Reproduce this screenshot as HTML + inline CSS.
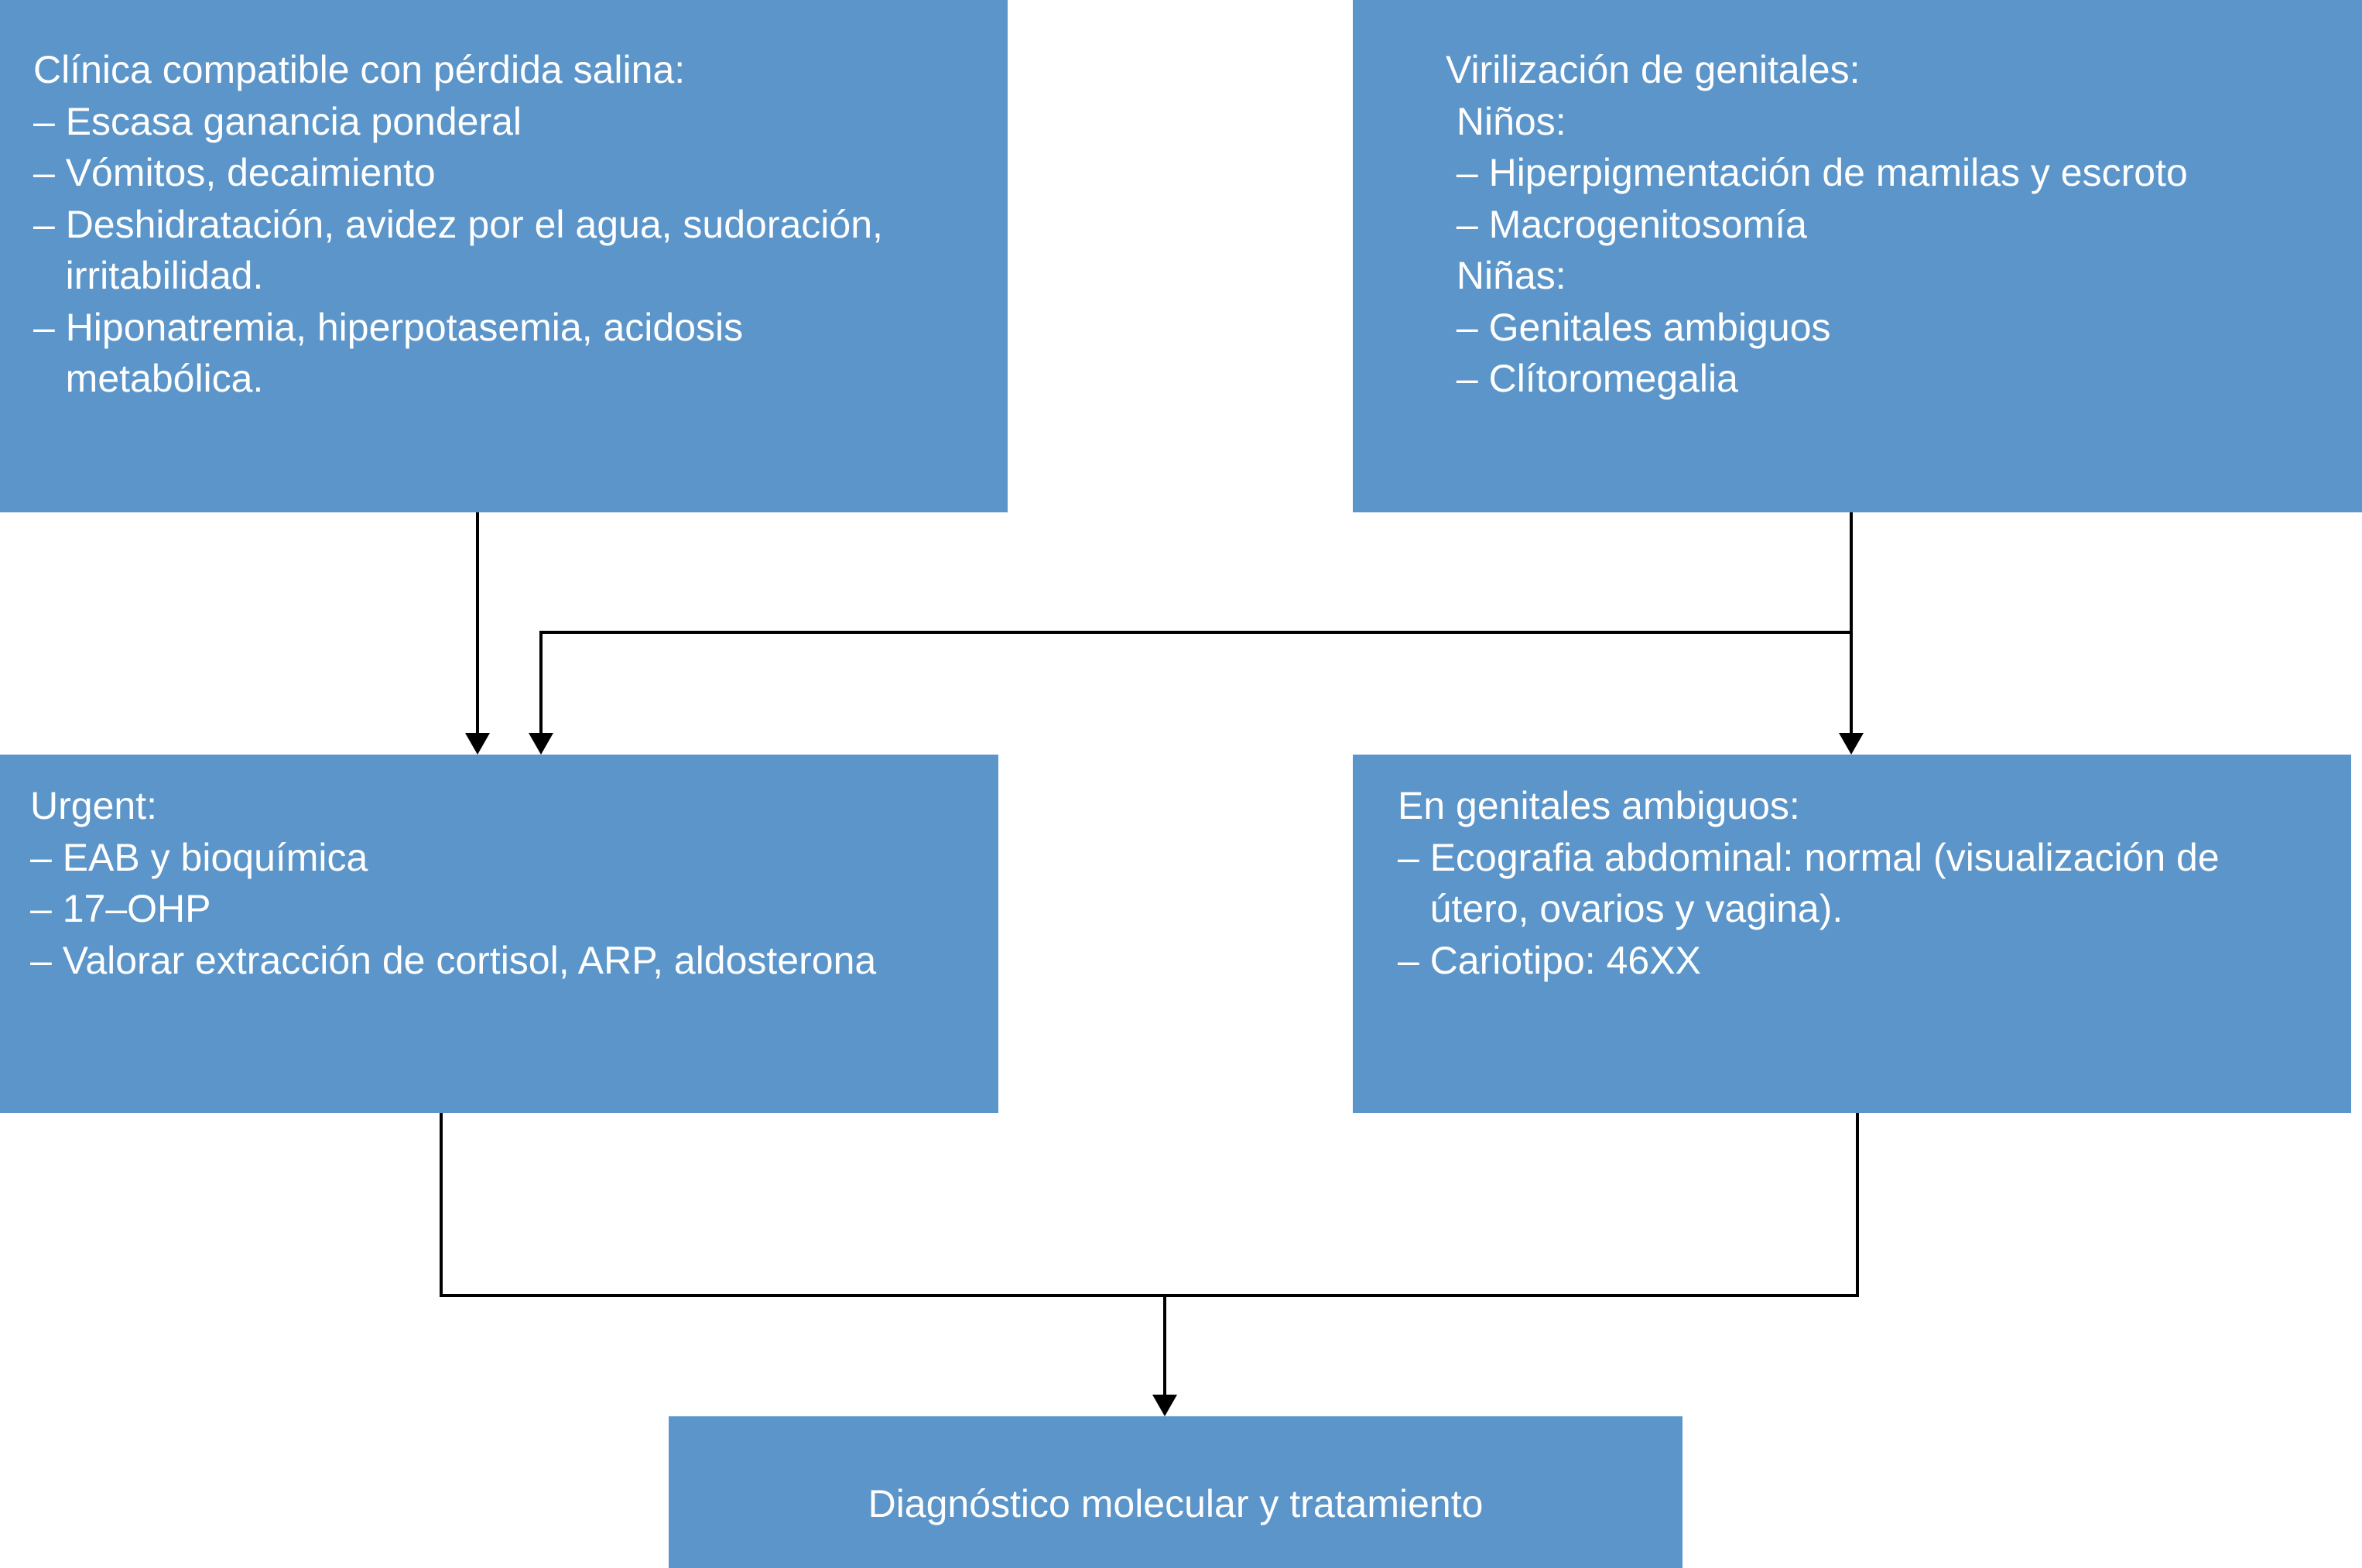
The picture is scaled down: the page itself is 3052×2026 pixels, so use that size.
<!DOCTYPE html>
<html><head><meta charset="utf-8"><style>
body{margin:0;width:3052px;height:2026px;background:#fff;position:relative;overflow:hidden;font-family:"Liberation Sans",Arial,sans-serif;}
.b{position:absolute;background:#5b95c9;color:#fff;font-size:50px;line-height:66.5px;box-sizing:border-box;white-space:pre;}
svg{position:absolute;left:0;top:0}
</style></head><body>
<div class="b" style="left:0;top:0;width:1302px;height:662px;padding:57px 0 0 43px;">Clínica compatible con pérdida salina:
– Escasa ganancia ponderal
– Vómitos, decaimiento
– Deshidratación, avidez por el agua, sudoración,
   irritabilidad.
– Hiponatremia, hiperpotasemia, acidosis
   metabólica.</div>
<div class="b" style="left:1748px;top:0;width:1304px;height:662px;padding:57px 0 0 120px;">Virilización de genitales:
 Niños:
 – Hiperpigmentación de mamilas y escroto
 – Macrogenitosomía
 Niñas:
 – Genitales ambiguos
 – Clítoromegalia</div>
<div class="b" style="left:0;top:975px;width:1290px;height:463px;padding:33px 0 0 39px;">Urgent:
– EAB y bioquímica
– 17–OHP
– Valorar extracción de cortisol, ARP, aldosterona</div>
<div class="b" style="left:1748px;top:975px;width:1290px;height:463px;padding:33px 0 0 58px;">En genitales ambiguos:
– Ecografia abdominal: normal (visualización de
   útero, ovarios y vagina).
– Cariotipo: 46XX</div>
<div class="b" style="left:864px;top:1830px;width:1310px;height:196px;text-align:center;padding-top:80px;">Diagnóstico molecular y tratamiento</div>
<svg width="3052" height="2026">
<g stroke="#000" stroke-width="4" fill="none">
<line x1="617" y1="662" x2="617" y2="950"/>
<polyline points="2392,662 2392,817 699,817 699,950"/>
<line x1="2392" y1="817" x2="2392" y2="950"/>
<polyline points="570,1438 570,1674 2400,1674 2400,1438"/>
<line x1="1505" y1="1674" x2="1505" y2="1805"/>
</g>
<g fill="#000">
<polygon points="601,947 633,947 617,975"/>
<polygon points="683,947 715,947 699,975"/>
<polygon points="2376,947 2408,947 2392,975"/>
<polygon points="1489,1802 1521,1802 1505,1830"/>
</g>
</svg>
</body></html>
